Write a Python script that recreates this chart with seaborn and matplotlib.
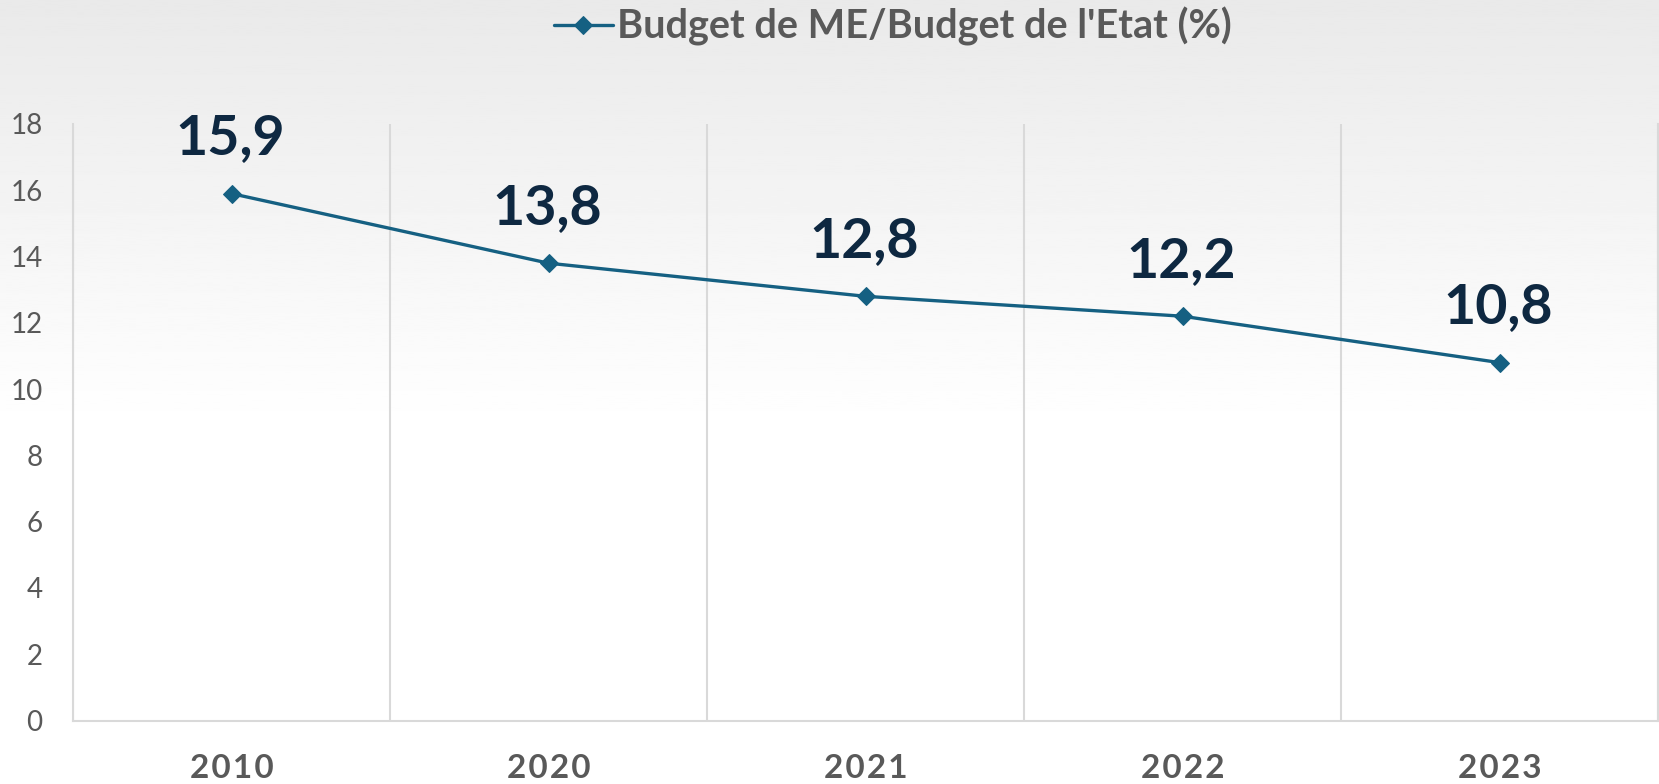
import numpy as np
import pandas as pd
import seaborn as sns
import matplotlib.pyplot as plt

# Donnees
annees = ["2010", "2020", "2021", "2022", "2023"]
part_budget = [15.9, 13.8, 12.8, 12.2, 10.8]
serie = "Budget de ME/Budget de l'Etat (%)"

df = pd.DataFrame({"annee": annees, "valeur": part_budget})

sns.set_style("white")
plt.rcParams["font.family"] = ["Lato", "DejaVu Sans"]

bleu = "#156082"
marine = "#0E2841"
gris_texte = "#595959"
gris_grille = "#D9D9D9"

fig = plt.figure(figsize=(16.59, 7.84), dpi=100)

# fond degrade (gris en haut -> blanc)
fond = fig.add_axes([0, 0, 1, 1], zorder=-1)
h = 400
grad = np.ones((h, 1))
stop = int(h * 0.55)
grad[:stop, 0] = np.linspace(0.915, 1.0, stop)
grad = grad[::-1]
fond.imshow(grad, cmap="gray", vmin=0, vmax=1, aspect="auto",
            extent=[0, 1, 0, 1], origin="lower")
fond.axis("off")

ax = fig.add_axes([73 / 1659, 63.5 / 784, 1585 / 1659, 596.5 / 784])
ax.set_facecolor("none")

sns.lineplot(data=df, x="annee", y="valeur", ax=ax, color=bleu,
             linewidth=2.4, marker="D", markersize=9, markeredgecolor=bleu,
             label=serie, sort=False)

# etiquettes de donnees
for i, v in enumerate(part_budget):
    ax.annotate(f"{v:.1f}".replace(".", ","), (i, v), xytext=(-1, 40),
                textcoords="offset points", ha="center", va="center",
                fontsize=40, fontweight="bold", color=marine)

ax.set_xlim(-0.5, len(annees) - 0.5)
ax.set_ylim(0, 18)
ax.set_yticks(range(0, 19, 2))
ax.set_xticks(range(len(annees)))
ax.set_xticklabels(["\u200a".join(a) for a in annees])
ax.set_xlabel("")
ax.set_ylabel("")

ax.set_xticks(np.arange(-0.5, len(annees), 1.0), minor=True)
ax.grid(False)
ax.grid(True, which="minor", axis="x", color=gris_grille, linewidth=1.5)

for cote in ["left", "right", "bottom"]:
    ax.spines[cote].set_color(gris_grille)
    ax.spines[cote].set_linewidth(1.5)
ax.spines["top"].set_visible(False)

ax.tick_params(axis="y", length=0, pad=22, labelsize=20, labelcolor=gris_texte)
ax.tick_params(axis="x", length=0, pad=24, labelsize=24, labelcolor=gris_texte)
ax.tick_params(which="minor", length=0)
for lab in ax.get_xticklabels():
    lab.set_fontweight("bold")

ax.get_legend().remove()
handles, labels = ax.get_legend_handles_labels()
leg = fig.legend(handles, labels, loc="center", bbox_to_anchor=(0.538, 0.966),
                 frameon=False, handlelength=1.5, handletextpad=0.1,
                 prop={"size": 28.5, "weight": "bold"})
for t in leg.get_texts():
    t.set_color(gris_texte)

fig.savefig("out.png", dpi=100)
